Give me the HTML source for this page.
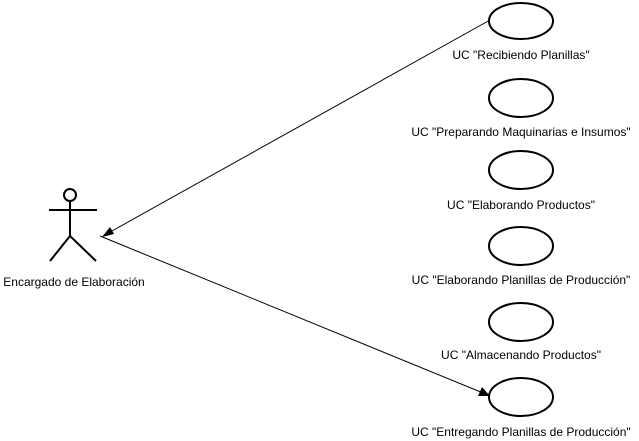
<!DOCTYPE html>
<html><head><style>body{margin:0;background:#fff}svg{display:block}text{font-family:"Liberation Sans",sans-serif;font-size:12px;fill:#000}</style></head>
<body><svg width="639" height="441" viewBox="0 0 639 441">
<g fill="none" stroke="#000" stroke-width="2">
<ellipse cx="521" cy="21" rx="32" ry="18"/>
<ellipse cx="521" cy="98" rx="32" ry="19"/>
<ellipse cx="521" cy="170" rx="32" ry="19"/>
<ellipse cx="521" cy="246" rx="32" ry="19"/>
<ellipse cx="521" cy="322" rx="32" ry="19"/>
<ellipse cx="521" cy="397" rx="32" ry="19"/>
<circle cx="70" cy="195" r="6"/>
<line x1="49" y1="210" x2="97" y2="210"/>
<line x1="70" y1="201" x2="70" y2="236"/>
<line x1="70" y1="236" x2="50" y2="261"/>
<line x1="70" y1="236" x2="96" y2="261"/>
</g>
<g stroke="#000" stroke-width="1">
<line x1="103" y1="236" x2="490" y2="20"/>
<line x1="100" y1="236" x2="488" y2="395"/>
</g>
<polygon points="102,237 110,227 114,234" fill="#000"/>
<polygon points="490,396 478,396 482,387" fill="#000"/>
<g text-anchor="middle">
<text x="521" y="59">UC "Recibiendo Planillas"</text>
<text x="521" y="136">UC "Preparando Maquinarias e Insumos"</text>
<text x="521" y="209">UC "Elaborando Productos"</text>
<text x="521" y="284">UC "Elaborando Planillas de Producción"</text>
<text x="521" y="359">UC "Almacenando Productos"</text>
<text x="521" y="436">UC "Entregando Planillas de Producción"</text>
<text x="74" y="286">Encargado de Elaboración</text>
</g>
</svg></body></html>
